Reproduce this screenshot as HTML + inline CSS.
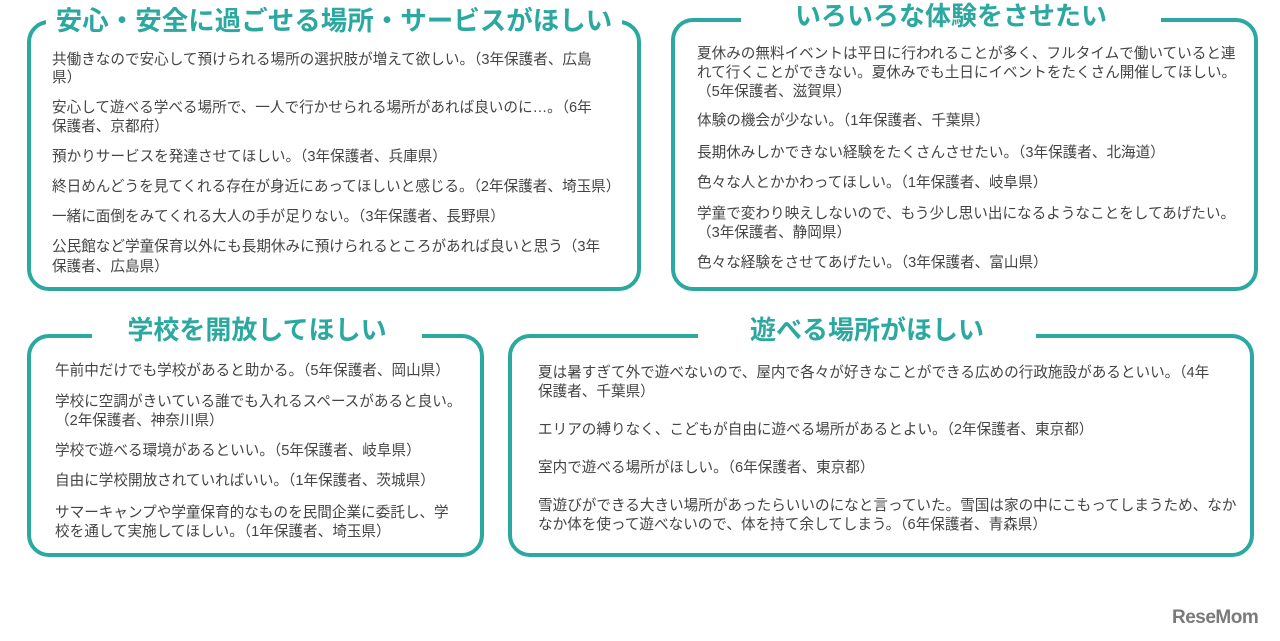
<!DOCTYPE html>
<html><head><meta charset="utf-8"><style>
body{margin:0;width:1280px;height:641px;background:#fff;position:relative;overflow:hidden;font-family:"Liberation Sans","Noto Sans CJK JP",sans-serif;}
.box{position:absolute;border:4px solid #2ba8a0;border-radius:22px;box-sizing:border-box;}
.t{position:absolute;background:#fff;color:#2ba8a0;font-weight:bold;text-align:center;white-space:nowrap;line-height:30px;height:30px;}
.l{position:absolute;font-size:14.6px;line-height:20px;color:#444;white-space:nowrap;}
.logo{position:absolute;left:1172px;top:607px;font-size:19px;font-weight:bold;color:#7a7a7a;letter-spacing:-0.5px;}
</style></head><body>
<div class="box" style="left:27px;top:20px;width:614px;height:271px"></div>
<div class="t" style="left:46px;top:6px;width:576px;font-size:26.5px">安心・安全に過ごせる場所・サービスがほしい</div>
<div class="l" style="left:52px;top:50px">共働きなので安心して預けられる場所の選択肢が増えて欲しい。（3年保護者、広島</div>
<div class="l" style="left:52px;top:68px">県）</div>
<div class="l" style="left:52px;top:98px">安心して遊べる学べる場所で、一人で行かせられる場所があれば良いのに…。（6年</div>
<div class="l" style="left:52px;top:117px">保護者、京都府）</div>
<div class="l" style="left:52px;top:147px">預かりサービスを発達させてほしい。（3年保護者、兵庫県）</div>
<div class="l" style="left:52px;top:177px">終日めんどうを見てくれる存在が身近にあってほしいと感じる。（2年保護者、埼玉県）</div>
<div class="l" style="left:52px;top:207px">一緒に面倒をみてくれる大人の手が足りない。（3年保護者、長野県）</div>
<div class="l" style="left:52px;top:237px">公民館など学童保育以外にも長期休みに預けられるところがあれば良いと思う（3年</div>
<div class="l" style="left:52px;top:257px">保護者、広島県）</div>

<div class="box" style="left:671px;top:18px;width:587px;height:273px"></div>
<div class="t" style="left:741px;top:1px;width:420px;font-size:26px">いろいろな体験をさせたい</div>
<div class="l" style="left:697px;top:44px">夏休みの無料イベントは平日に行われることが多く、フルタイムで働いていると連</div>
<div class="l" style="left:697px;top:63px">れて行くことができない。夏休みでも土日にイベントをたくさん開催してほしい。</div>
<div class="l" style="left:697px;top:82px">（5年保護者、滋賀県）</div>
<div class="l" style="left:697px;top:111px">体験の機会が少ない。（1年保護者、千葉県）</div>
<div class="l" style="left:697px;top:143px">長期休みしかできない経験をたくさんさせたい。（3年保護者、北海道）</div>
<div class="l" style="left:697px;top:173px">色々な人とかかわってほしい。（1年保護者、岐阜県）</div>
<div class="l" style="left:697px;top:204px">学童で変わり映えしないので、もう少し思い出になるようなことをしてあげたい。</div>
<div class="l" style="left:697px;top:223px">（3年保護者、静岡県）</div>
<div class="l" style="left:697px;top:253px">色々な経験をさせてあげたい。（3年保護者、富山県）</div>

<div class="box" style="left:27px;top:334px;width:457px;height:223px"></div>
<div class="t" style="left:92px;top:315px;width:330px;font-size:26px">学校を開放してほしい</div>
<div class="l" style="left:55px;top:361px">午前中だけでも学校があると助かる。（5年保護者、岡山県）</div>
<div class="l" style="left:55px;top:392px">学校に空調がきいている誰でも入れるスペースがあると良い。</div>
<div class="l" style="left:55px;top:411px">（2年保護者、神奈川県）</div>
<div class="l" style="left:55px;top:441px">学校で遊べる環境があるといい。（5年保護者、岐阜県）</div>
<div class="l" style="left:55px;top:471px">自由に学校開放されていればいい。（1年保護者、茨城県）</div>
<div class="l" style="left:55px;top:503px">サマーキャンプや学童保育的なものを民間企業に委託し、学</div>
<div class="l" style="left:55px;top:522px">校を通して実施してほしい。（1年保護者、埼玉県）</div>

<div class="box" style="left:508px;top:334px;width:746px;height:223px"></div>
<div class="t" style="left:698px;top:315px;width:338px;font-size:26px">遊べる場所がほしい</div>
<div class="l" style="left:538px;top:363px">夏は暑すぎて外で遊べないので、屋内で各々が好きなことができる広めの行政施設があるといい。（4年</div>
<div class="l" style="left:538px;top:382px">保護者、千葉県）</div>
<div class="l" style="left:538px;top:420px">エリアの縛りなく、こどもが自由に遊べる場所があるとよい。（2年保護者、東京都）</div>
<div class="l" style="left:538px;top:458px">室内で遊べる場所がほしい。（6年保護者、東京都）</div>
<div class="l" style="left:538px;top:496px">雪遊びができる大きい場所があったらいいのになと言っていた。雪国は家の中にこもってしまうため、なか</div>
<div class="l" style="left:538px;top:515px">なか体を使って遊べないので、体を持て余してしまう。（6年保護者、青森県）</div>

<div class="logo">ReseMom</div>
</body></html>
